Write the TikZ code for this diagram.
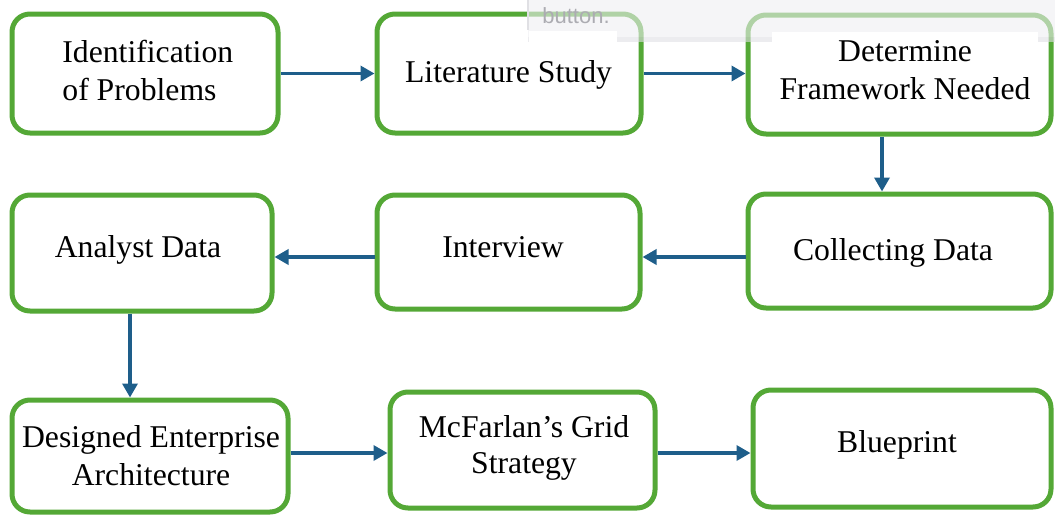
\documentclass[tikz,border=0pt]{standalone}
\usepackage{fontspec}
\setmainfont{Liberation Serif}
\newfontfamily\uisans{Liberation Sans}
\usetikzlibrary{arrows.meta}
\definecolor{boxgreen}{RGB}{84,168,54}
\definecolor{arrblue}{RGB}{30,94,138}
\definecolor{bandgray}{RGB}{238,238,241}
\definecolor{bandedge}{RGB}{224,224,228}
\definecolor{btngray}{RGB}{172,172,178}
\tikzset{
  box/.style={draw=boxgreen, line width=2.5pt, rounded corners=9pt, fill=none, inner sep=0pt},
  lbl/.style={inner sep=0pt, font=\fontsize{15.85pt}{19pt}\selectfont, align=center},
  arr/.style={draw=arrblue, line width=1.7pt, -{Triangle[length=7pt,width=7.5pt]}},
}
\begin{document}
\begin{tikzpicture}[x=0.5pt,y=-0.5pt]
\useasboundingbox (0,0) rectangle (1055,515);
% boxes
\node[box, minimum width=133pt,   minimum height=59.5pt] (b1) at (145,73.5) {};
\node[box, minimum width=132pt,   minimum height=59.5pt] (b2) at (509,73.5) {};
\node[box, minimum width=151.5pt, minimum height=59.5pt] (b3) at (899.5,74.5) {};
\node[box, minimum width=151.5pt, minimum height=57pt]   (b4) at (899.5,251) {};
\node[box, minimum width=131.5pt, minimum height=57pt]   (b5) at (508.5,252) {};
\node[box, minimum width=130pt,   minimum height=58pt]   (b6) at (142,253) {};
\node[box, minimum width=138pt,   minimum height=56pt]   (b7) at (150,456) {};
\node[box, minimum width=132.5pt, minimum height=58pt]   (b8) at (522.5,450) {};
\node[box, minimum width=149pt,   minimum height=58.5pt] (b9) at (902,448.5) {};
% screenshot band at the top
\fill[bandgray, opacity=0.6] (528,0) rectangle (1055,37);
\fill[bandedge, opacity=0.6] (528,37) rectangle (1055,42);
\draw[bandedge, line width=0.8pt] (528,0) -- (528,30);
\node[inner sep=0pt, anchor=base west, text=btngray, font=\uisans\fontsize{11pt}{13pt}\selectfont] (btn) at (542,23) {button.};
\fill[white] (529,31) rectangle (617,60);
\fill[white] (772,32) rectangle (1038,60);
% labels (multi-line: anchor at the last baseline)
\node[lbl, align=left, anchor=base west] (t1) at (62,100) {Identification\\of Problems};
\node[lbl, anchor=base] (t2) at (508.5,82) {Literature Study};
\node[lbl, anchor=base] (t3) at (905,99) {Determine\\Framework Needed};
\node[lbl, anchor=base] (t4) at (893,260) {Collecting Data};
\node[lbl, anchor=base] (t5) at (503,257) {Interview};
\node[lbl, anchor=base] (t6) at (138,257) {Analyst Data};
\node[lbl, anchor=base] (t7) at (151,485) {Designed Enterprise\\Architecture};
\node[lbl, anchor=base, font=\fontsize{15.85pt}{18pt}\selectfont] (t8) at (524,473) {McFarlan’s Grid\\Strategy};
\node[lbl, anchor=base] (t9) at (897,452) {Blueprint};
% connectors
\draw[arr] (b1.east) -- (b2.west);
\draw[arr] (b2.east) -- (b2.east -| b3.west);
\draw[arr] ([xshift=-8.75pt]b3.south) -- ([xshift=-8.75pt]b4.north);
\draw[arr] ([yshift=-3pt]b4.west) -- ([yshift=-3pt]b4.west -| b5.east);
\draw[arr] ([yshift=-2.5pt]b5.west) -- ([yshift=-2.5pt]b5.west -| b6.east);
\draw[arr] ([xshift=-6pt]b6.south) -- ([xshift=-6pt]b6.south |- b7.north);
\draw[arr] ([yshift=1.5pt]b7.east) -- ([yshift=1.5pt]b7.east -| b8.west);
\draw[arr] ([yshift=-1.5pt]b8.east) -- ([yshift=-1.5pt]b8.east -| b9.west);
\end{tikzpicture}
\end{document}
